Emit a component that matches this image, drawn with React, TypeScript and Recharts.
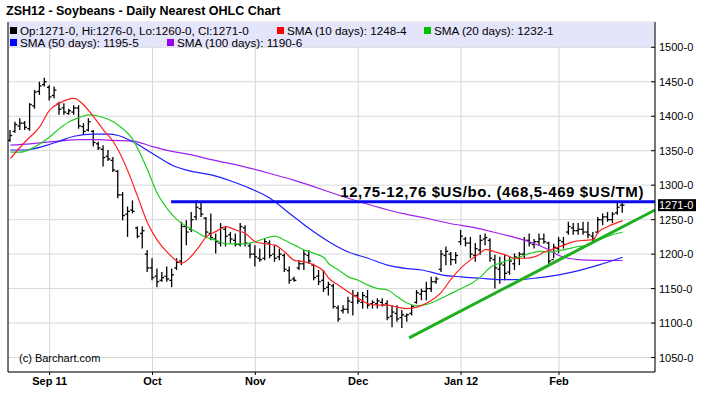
import React from "react";
import {
  ComposedChart,
  Bar,
  Line,
  XAxis,
  YAxis,
  CartesianGrid,
  ReferenceLine,
  ReferenceArea,
} from "recharts";

// daily bars, Aug 22 2011 .. Feb 17 2012 (index = trading day)
const highs = [
  1380, 1392, 1397, 1393, 1419, 1438, 1450, 1456, 1445, 1443, 1421, 1419, 1411, 1416, 1416, 1390, 1397, 1380, 1363, 1358,
  1351, 1341, 1322, 1290, 1269, 1278, 1240, 1240, 1206, 1194, 1179, 1174, 1182, 1179, 1194, 1247, 1249, 1261, 1278, 1274,
  1254, 1259, 1230, 1245, 1240, 1232, 1230, 1245, 1242, 1216, 1213, 1208, 1223, 1220, 1213, 1208, 1201, 1182, 1167, 1191,
  1206, 1206, 1186, 1177, 1177, 1160, 1157, 1126, 1126, 1138, 1148, 1145, 1145, 1148, 1133, 1136, 1136, 1133, 1126, 1126,
  1119, 1114, 1126, 1148, 1150, 1160, 1167, 1167, 1206, 1211, 1203, 1203, 1235, 1225, 1225, 1216, 1228, 1230, 1223, 1199,
  1196, 1199, 1196, 1201, 1203, 1225, 1230, 1222, 1230, 1230, 1218, 1215, 1225, 1225, 1247, 1245, 1245, 1247, 1247, 1232,
  1254, 1259, 1261, 1261, 1274, 1276,
];
const lows = [
  1363, 1376, 1380, 1380, 1379, 1411, 1431, 1443, 1423, 1426, 1402, 1402, 1402, 1402, 1382, 1373, 1378, 1356, 1351, 1327,
  1335, 1319, 1281, 1249, 1225, 1259, 1223, 1208, 1174, 1162, 1152, 1160, 1160, 1152, 1177, 1184, 1213, 1232, 1249, 1254,
  1225, 1220, 1201, 1211, 1211, 1216, 1211, 1211, 1211, 1194, 1182, 1189, 1191, 1194, 1189, 1191, 1174, 1157, 1160, 1177,
  1177, 1186, 1162, 1155, 1145, 1140, 1121, 1102, 1114, 1114, 1111, 1128, 1121, 1121, 1121, 1121, 1124, 1104, 1094, 1102,
  1093, 1102, 1111, 1128, 1133, 1133, 1145, 1157, 1174, 1184, 1184, 1186, 1213, 1211, 1194, 1189, 1199, 1213, 1189, 1150,
  1157, 1162, 1170, 1177, 1184, 1194, 1211, 1208, 1213, 1215, 1184, 1194, 1201, 1208, 1228, 1228, 1228, 1228, 1223, 1218,
  1230, 1242, 1247, 1245, 1257, 1260,
];
const opens = [
  1365, 1378, 1386, 1390, 1382, 1415, 1436, 1446, 1442, 1430, 1418, 1412, 1404, 1406, 1412, 1385, 1380, 1378, 1360, 1352,
  1342, 1336, 1320, 1286, 1258, 1264, 1238, 1230, 1200, 1180, 1168, 1162, 1168, 1162, 1180, 1190, 1240, 1236, 1254, 1266,
  1252, 1230, 1222, 1216, 1236, 1228, 1220, 1214, 1238, 1212, 1200, 1194, 1194, 1216, 1200, 1196, 1198, 1176, 1164, 1180,
  1186, 1198, 1184, 1168, 1162, 1152, 1154, 1122, 1118, 1120, 1130, 1140, 1130, 1138, 1128, 1128, 1130, 1128, 1110, 1114,
  1108, 1110, 1114, 1130, 1142, 1146, 1150, 1160, 1178, 1198, 1200, 1192, 1218, 1222, 1216, 1198, 1206, 1222, 1220, 1192,
  1178, 1184, 1174, 1186, 1194, 1200, 1220, 1214, 1218, 1222, 1216, 1192, 1208, 1218, 1232, 1238, 1234, 1236, 1232, 1226,
  1232, 1250, 1254, 1250, 1260, 1271,
];
const closes = [
  1372, 1388, 1390, 1384, 1417, 1435, 1444, 1450, 1428, 1438, 1410, 1406, 1408, 1412, 1386, 1378, 1392, 1362, 1354, 1340,
  1338, 1322, 1286, 1256, 1262, 1262, 1226, 1234, 1180, 1166, 1160, 1166, 1164, 1170, 1188, 1240, 1232, 1250, 1268, 1258,
  1232, 1224, 1218, 1238, 1226, 1222, 1214, 1240, 1216, 1200, 1196, 1192, 1218, 1198, 1194, 1200, 1178, 1162, 1162, 1186,
  1200, 1190, 1166, 1160, 1150, 1156, 1124, 1106, 1120, 1132, 1140, 1132, 1140, 1126, 1130, 1132, 1126, 1108, 1116, 1106,
  1112, 1112, 1124, 1144, 1146, 1150, 1160, 1164, 1200, 1204, 1192, 1198, 1226, 1216, 1200, 1208, 1220, 1224, 1194, 1180,
  1186, 1172, 1190, 1196, 1200, 1220, 1216, 1218, 1222, 1218, 1190, 1210, 1220, 1214, 1240, 1234, 1236, 1232, 1228, 1222,
  1250, 1254, 1250, 1258, 1268, 1271,
];

// moving averages: [day index, value]
const sma10 = [
  [0, 1339], [3, 1363], [6, 1385], [8, 1409], [10, 1419], [13, 1426], [15, 1416], [17, 1399], [19, 1380], [21, 1363],
  [22, 1351], [24, 1320], [26, 1283], [28, 1245], [30, 1220], [32, 1203], [35, 1187], [38, 1206], [40, 1225], [42, 1233],
  [44, 1240], [46, 1235], [48, 1230], [50, 1218], [52, 1215], [54, 1213], [56, 1203], [58, 1191], [60, 1189], [62, 1184],
  [64, 1175], [65, 1165], [67, 1155], [69, 1145], [71, 1136], [73, 1128], [75, 1126], [77, 1126], [79, 1123], [81, 1121],
  [83, 1123], [85, 1129], [88, 1145], [90, 1164], [92, 1180], [94, 1192], [96, 1202], [97, 1207], [99, 1203], [101, 1199],
  [103, 1194], [105, 1194], [107, 1196], [109, 1203], [111, 1208], [113, 1213], [115, 1218], [117, 1220], [119, 1221],
  [120, 1232], [122, 1240], [125, 1248.5],
];
const sma20 = [
  [0, 1348], [2, 1348], [4, 1352], [6, 1360], [8, 1370], [10, 1382], [12, 1392], [14, 1398], [16, 1402], [18, 1400],
  [21, 1392], [22, 1387], [25, 1366], [28, 1322], [30, 1288], [32, 1266], [34, 1250], [36, 1240], [38, 1232], [40, 1224],
  [42, 1220], [44, 1215], [48, 1215], [50, 1218], [52, 1223], [54, 1226], [56, 1220], [58, 1213], [60, 1206], [62, 1201],
  [64, 1195], [65, 1186], [67, 1177], [69, 1167], [71, 1162], [73, 1155], [75, 1150], [77, 1148], [79, 1138], [81, 1129],
  [83, 1125], [85, 1127], [88, 1136], [90, 1143], [92, 1150], [94, 1157], [96, 1167], [98, 1181], [100, 1187], [102, 1192],
  [104, 1196], [106, 1201], [108, 1204], [110, 1203], [112, 1205], [114, 1208], [116, 1211], [118, 1213], [120, 1220],
  [122, 1226], [125, 1232.1],
];
const sma50 = [
  [0, 1351], [3, 1351], [7, 1357], [10, 1364], [13, 1371], [17, 1374], [20, 1374], [22, 1372], [25, 1363], [29, 1346],
  [33, 1329], [37, 1320], [41, 1315], [45, 1306], [49, 1295], [53, 1281], [57, 1259], [61, 1237], [65, 1218], [69, 1203],
  [73, 1194], [77, 1184], [81, 1179], [84, 1177], [88, 1170], [92, 1167], [96, 1165], [100, 1163], [104, 1163], [108, 1166],
  [112, 1170], [116, 1176], [120, 1184], [125, 1195.5],
];
const sma100 = [
  [0, 1358], [4, 1360], [7, 1362], [10, 1364], [14, 1366], [18, 1366], [21, 1365], [25, 1364], [29, 1356], [33, 1349],
  [37, 1344], [41, 1337], [47, 1328], [53, 1317], [58, 1307], [69, 1281], [80, 1259], [85, 1252], [90, 1244], [95, 1238],
  [98, 1233], [102, 1226], [106, 1218], [110, 1206], [112, 1198], [116, 1192], [120, 1191], [125, 1190.75],
];

const monthTicks = [8, 29, 50, 71, 92, 112];
const monthLabels = ["Sep 11", "Oct", "Nov", "Dec", "Jan 12", "Feb"];
const priceTicks = [1050, 1100, 1150, 1200, 1250, 1300, 1350, 1400, 1450, 1500];

const resistance = 1276;
const trendStart = { x: 81.4, y: 1078.5 };
const trendEnd = { x: 131.6, y: 1264 };
const lastClose = 1271;

const X_MIN = -0.5;
const X_MAX = 131.6;
const Y_MIN = 1029;
const Y_MAX = 1536.7;

const rows = highs.map((h, i) => ({
  i,
  range: [lows[i], h],
  o: opens[i],
  h,
  l: lows[i],
  c: closes[i],
}));

const toPts = (arr: number[][]) => arr.map(([i, v]) => ({ i, v }));

function OhlcShape(props: any) {
  const { x, y, width, height, payload } = props;
  if (x == null || payload == null) return null;
  const cx = x + width / 2;
  const top = Math.min(y, y + height);
  const bot = Math.max(y, y + height);
  const span = payload.h - payload.l || 1;
  const py = (v: number) => top + ((payload.h - v) / span) * (bot - top);
  return (
    <g stroke="#000" strokeWidth={1.3}>
      <line x1={cx} x2={cx} y1={top} y2={bot} />
      <line x1={cx - 2.3} x2={cx} y1={py(payload.o)} y2={py(payload.o)} />
      <line x1={cx} x2={cx + 2.3} y1={py(payload.c)} y2={py(payload.c)} />
    </g>
  );
}

function PriceTick(props: any) {
  const { x, y, payload } = props;
  return (
    <g>
      <line x1={x - 4} x2={x} y1={y} y2={y} stroke="#000" />
      <text x={x + 4} y={y} dy={4} fontSize={11} fill="#000">
        {payload.value}-0
      </text>
    </g>
  );
}

function AnnotationLabel(props: any) {
  const vb = props.viewBox || {};
  const xr = (vb.x ?? 0) + (vb.width ?? 0) - 11;
  const yy = (vb.y ?? 0) - 4.5;
  return (
    <text x={xr} y={yy} textAnchor="end" fontSize={15} fontWeight="bold" letterSpacing={0.6} fill="#000">
      12,75-12,76 $US/bo. (468,5-469 $US/TM)
    </text>
  );
}

function PriceTag(props: any) {
  const vb = props.viewBox || {};
  const x0 = (vb.x ?? 0) + (vb.width ?? 0) + 3;
  const yy = vb.y ?? 0;
  return (
    <g>
      <rect x={x0} y={yy - 6} width={38} height={12} fill="#000" />
      <text x={x0 + 1} y={yy + 4} fontSize={11} fill="#fff">
        {lastClose}-0
      </text>
    </g>
  );
}

const legendRow1 = [
  { color: "#000000", text: "Op:1271-0, Hi:1276-0, Lo:1260-0, Cl:1271-0", left: 10 },
  { color: "#ff0000", text: "SMA (10 days): 1248-4", left: 277 },
  { color: "#00c000", text: "SMA (20 days): 1232-1", left: 424 },
];
const legendRow2 = [
  { color: "#0000ff", text: "SMA (50 days): 1195-5", left: 10 },
  { color: "#9900ee", text: "SMA (100 days): 1190-6", left: 167 },
];

function LegendItem({ color, text, left, top }: { color: string; text: string; left: number; top: number }) {
  return (
    <div style={{ position: "absolute", left, top, display: "flex", alignItems: "center", whiteSpace: "nowrap" }}>
      <span style={{ display: "inline-block", width: 7, height: 7, background: color, marginRight: 3 }} />
      <span style={{ fontSize: 11.7, lineHeight: "13px" }}>{text}</span>
    </div>
  );
}

export default function App() {
  return (
    <div
      style={{
        position: "absolute",
        left: 0,
        top: 0,
        width: 705,
        height: 398,
        background: "#fff",
        fontFamily: '"Liberation Sans", Arial, sans-serif',
        color: "#000",
      }}
    >
      <ComposedChart width={705} height={398} data={rows} margin={{ top: 22, right: 0, bottom: 0, left: 8 }}>
        <CartesianGrid stroke="#d8d8d8" />
        <ReferenceArea
          x1={X_MIN}
          x2={X_MAX}
          y1={1500}
          y2={Y_MAX}
          fill="#e4e4fa"
          fillOpacity={1}
          stroke="none"
          ifOverflow="visible"
        />
        <XAxis
          dataKey="i"
          type="number"
          domain={[X_MIN, X_MAX]}
          allowDataOverflow
          ticks={monthTicks}
          interval={0}
          tickFormatter={(v: number) => monthLabels[monthTicks.indexOf(v)] ?? ""}
          height={26}
          axisLine={{ stroke: "#000" }}
          tickLine={{ stroke: "#000" }}
          tickSize={3}
          tick={{ fill: "#000", fontSize: 11, fontWeight: "bold" }}
        />
        <YAxis
          orientation="right"
          domain={[Y_MIN, Y_MAX]}
          allowDataOverflow
          ticks={priceTicks}
          interval={0}
          width={50}
          axisLine={{ stroke: "#000" }}
          tickLine={false}
          tickSize={0}
          tickMargin={0}
          tick={<PriceTick />}
        />
        <ReferenceLine x={X_MIN} stroke="#000" />
        <Line data={toPts(sma100)} dataKey="v" type="monotone" stroke="#a020f0" strokeWidth={1.2} dot={false} activeDot={false} isAnimationActive={false} />
        <Line data={toPts(sma50)} dataKey="v" type="monotone" stroke="#2020ff" strokeWidth={1.2} dot={false} activeDot={false} isAnimationActive={false} />
        <Line data={toPts(sma20)} dataKey="v" type="monotone" stroke="#22cc22" strokeWidth={1.2} dot={false} activeDot={false} isAnimationActive={false} />
        <Line data={toPts(sma10)} dataKey="v" type="monotone" stroke="#ff2020" strokeWidth={1.2} dot={false} activeDot={false} isAnimationActive={false} />
        <Bar dataKey="range" barSize={4} shape={OhlcShape} isAnimationActive={false} />
        <ReferenceLine
          segment={[
            { x: 32.8, y: resistance },
            { x: X_MAX, y: resistance },
          ]}
          stroke="#0a0aee"
          strokeWidth={3}
          label={<AnnotationLabel />}
        />
        <ReferenceLine
          segment={[trendStart, trendEnd]}
          stroke="#1fb01f"
          strokeWidth={3}
        />
        <ReferenceLine y={lastClose} stroke="none" label={<PriceTag />} />
      </ComposedChart>
      <div style={{ position: "absolute", left: 6, top: 4, fontSize: 12.5, fontWeight: "bold", lineHeight: "15px", whiteSpace: "nowrap" }}>
        ZSH12 - Soybeans - Daily Nearest OHLC Chart
      </div>
      {legendRow1.map((d) => (
        <LegendItem key={d.text} {...d} top={24} />
      ))}
      {legendRow2.map((d) => (
        <LegendItem key={d.text} {...d} top={36} />
      ))}
      <div style={{ position: "absolute", left: 19, top: 352, fontSize: 11, lineHeight: "13px", whiteSpace: "nowrap" }}>
        (c) Barchart.com
      </div>
    </div>
  );
}
